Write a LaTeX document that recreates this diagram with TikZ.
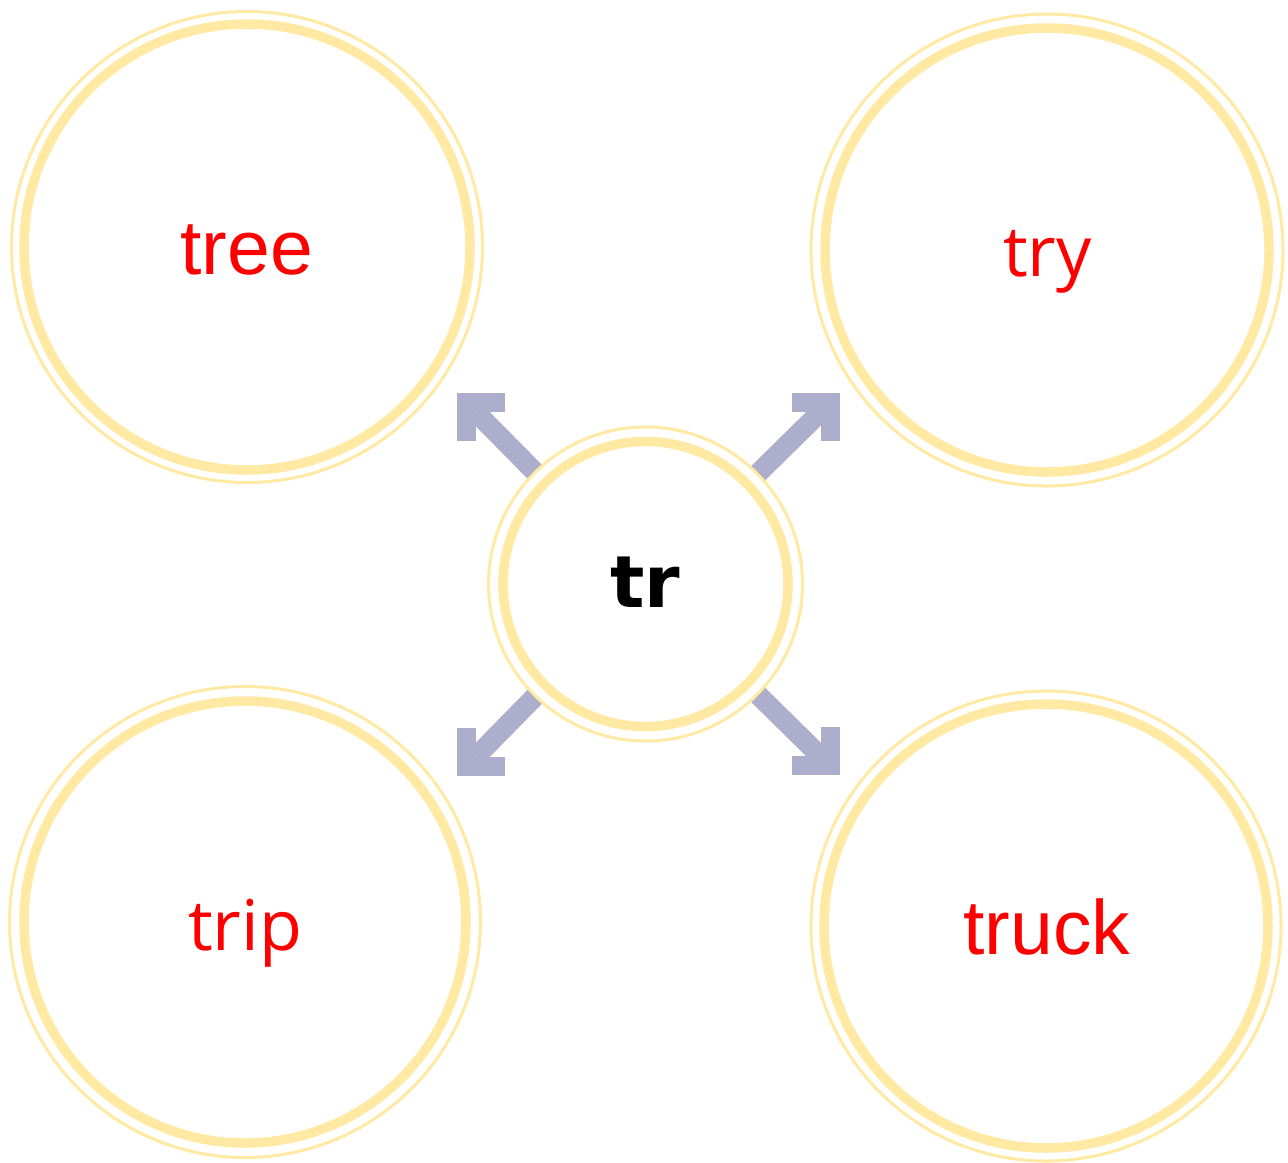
\documentclass[tikz,border=0pt]{standalone}
\usepackage{fontspec}
\newfontfamily\arialf{Liberation Sans}
\newfontfamily\segoef{Open Sans}
\newfontfamily\verdf{DejaVu Sans}
\usetikzlibrary{calc}
\pgfdeclarelayer{bg}
\pgfsetlayers{bg,main}
\definecolor{ringc}{RGB}{255,233,163}
\definecolor{arrowc}{RGB}{173,173,204}
\begin{document}
\begin{tikzpicture}[x=0.5pt,y=-0.5pt,
  thickring/.style={circle, draw=ringc, line width=4.75pt, fill=white, inner sep=0pt, outer sep=0pt},
  thinring/.style={circle, draw=ringc, line width=1.5pt, fill=white, inner sep=0pt, outer sep=0pt},
  shaft/.style={draw=arrowc, line width=10pt, line cap=butt, shorten >=13.5pt},
  head/.style={draw=arrowc, line width=9.5pt, line join=miter, line cap=butt},
  word/.style={text=red, anchor=base, inner sep=0pt, outer sep=0pt},
  arialw/.style={word, font=\arialf\fontsize{38.5}{46}\selectfont},
  segoew/.style={word, font=\segoef\fontsize{35}{42}\selectfont}]
\useasboundingbox (0,0) rectangle (1288,1162);

% centre
\node[thinring, minimum size=157pt] (cO) at (645.5,584) {};
\node[thickring, minimum size=142.5pt] (c) at (645.5,584) {};
\node[anchor=base, inner sep=0pt, font=\verdf\bfseries\fontsize{36}{43}\selectfont] (cT) at (645.5,607.7) {tr};

% tree
\node[thinring, minimum size=235.5pt] (treeO) at (247,247) {};
\node[thickring, minimum size=223pt] (tree) at (247,247) {};
\node[arialw] (treeT) at (246.5,274) {tree};

% try
\node[thinring, minimum size=236pt] (tryO) at (1047,250) {};
\node[thickring, minimum size=222pt] (try) at (1047,250) {};
\node[segoew] (tryT) at (1047.5,276.7) {try};

% trip
\node[thinring, minimum size=235.5pt] (tripO) at (245,922) {};
\node[thickring, minimum size=221pt] (trip) at (245,922) {};
\node[segoew] (tripT) at (245,950) {trip};

% truck
\node[thinring, minimum size=235pt] (truckO) at (1046,926) {};
\node[thickring, minimum size=222pt] (truck) at (1046,926) {};
\node[arialw] (truckT) at (1047,954) {truck};

% arrow tips
\coordinate (tl) at (457.3,393.3);
\coordinate (tr) at (840,392.7);
\coordinate (bl) at (457.3,775.7);
\coordinate (br) at (839.5,775);

\begin{pgfonlayer}{bg}
\draw[shaft] (cO) -- (tl);
\draw[shaft] (cO) -- (tr);
\draw[shaft] (cO) -- (bl);
\draw[shaft] (cO) -- (br);
\draw[head] ($(tl)+(48,9.5)$) -- ($(tl)+(9.5,9.5)$) -- ($(tl)+(9.5,48)$);
\draw[head] ($(tr)+(-48,9.5)$) -- ($(tr)+(-9.5,9.5)$) -- ($(tr)+(-9.5,48)$);
\draw[head] ($(bl)+(48,-9.5)$) -- ($(bl)+(9.5,-9.5)$) -- ($(bl)+(9.5,-48)$);
\draw[head] ($(br)+(-48,-9.5)$) -- ($(br)+(-9.5,-9.5)$) -- ($(br)+(-9.5,-48)$);
\end{pgfonlayer}
\end{tikzpicture}
\end{document}
